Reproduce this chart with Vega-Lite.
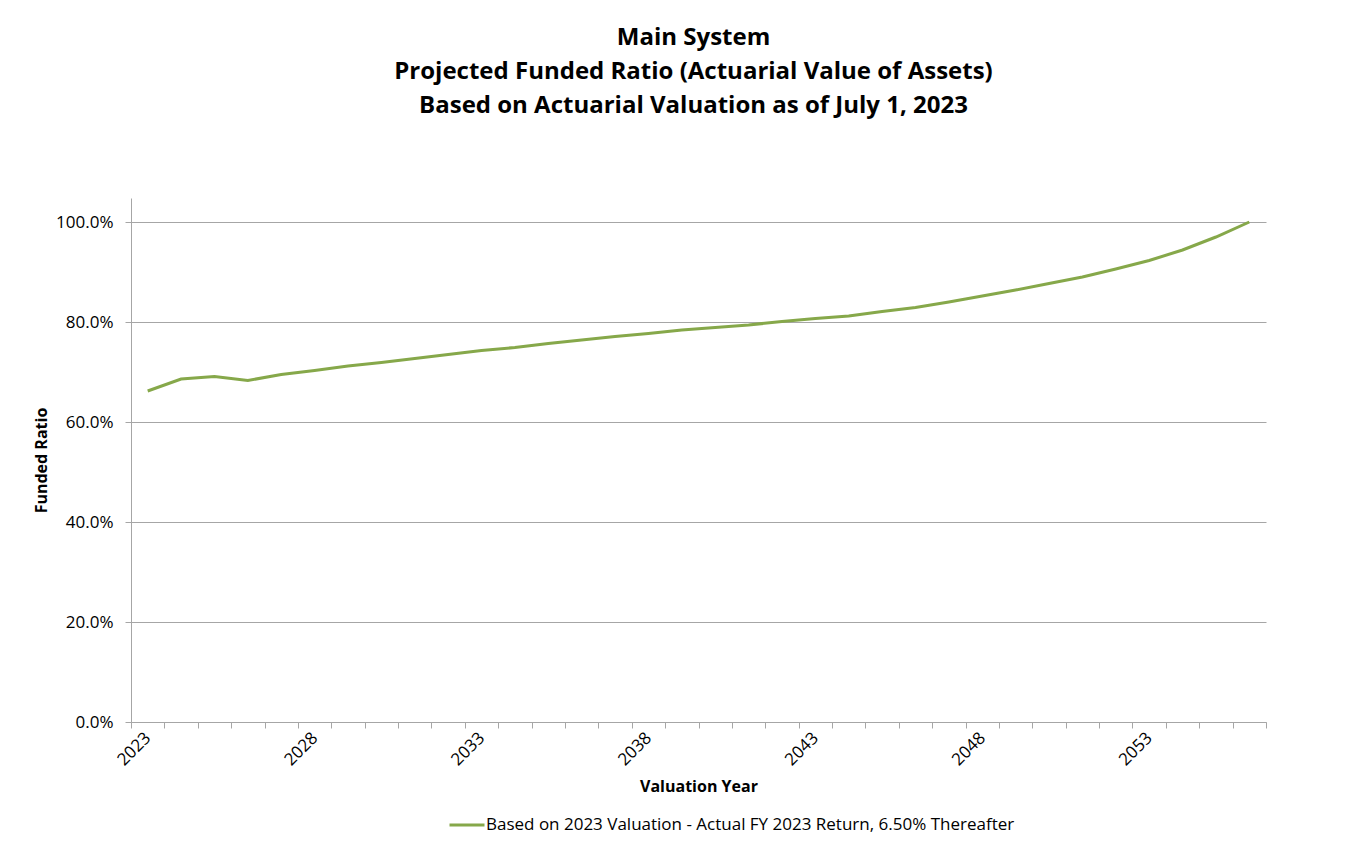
{
  "$schema": "https://vega.github.io/schema/vega-lite/v6.json",
  "width": 1135,
  "height": 524,
  "autosize": {"type": "none"},
  "padding": {"left": 131, "top": 198, "right": 86, "bottom": 132},
  "background": "white",
  "title": {
    "text": ["Main System", "Projected Funded Ratio (Actuarial Value of Assets)", "Based on Actuarial Valuation as of July 1, 2023"],
    "font": "Open Sans",
    "fontSize": 24,
    "fontWeight": "bold",
    "color": "#000000",
    "lineHeight": 34,
    "anchor": "middle",
    "dx": -5,
    "offset": 80
  },
  "data": {
    "values": [
      {"year": 2023, "ratio": 0.662, "series": "Based on 2023 Valuation - Actual FY 2023 Return, 6.50% Thereafter"},
      {"year": 2024, "ratio": 0.686, "series": "Based on 2023 Valuation - Actual FY 2023 Return, 6.50% Thereafter"},
      {"year": 2025, "ratio": 0.691, "series": "Based on 2023 Valuation - Actual FY 2023 Return, 6.50% Thereafter"},
      {"year": 2026, "ratio": 0.683, "series": "Based on 2023 Valuation - Actual FY 2023 Return, 6.50% Thereafter"},
      {"year": 2027, "ratio": 0.695, "series": "Based on 2023 Valuation - Actual FY 2023 Return, 6.50% Thereafter"},
      {"year": 2028, "ratio": 0.703, "series": "Based on 2023 Valuation - Actual FY 2023 Return, 6.50% Thereafter"},
      {"year": 2029, "ratio": 0.712, "series": "Based on 2023 Valuation - Actual FY 2023 Return, 6.50% Thereafter"},
      {"year": 2030, "ratio": 0.719, "series": "Based on 2023 Valuation - Actual FY 2023 Return, 6.50% Thereafter"},
      {"year": 2031, "ratio": 0.727, "series": "Based on 2023 Valuation - Actual FY 2023 Return, 6.50% Thereafter"},
      {"year": 2032, "ratio": 0.735, "series": "Based on 2023 Valuation - Actual FY 2023 Return, 6.50% Thereafter"},
      {"year": 2033, "ratio": 0.743, "series": "Based on 2023 Valuation - Actual FY 2023 Return, 6.50% Thereafter"},
      {"year": 2034, "ratio": 0.749, "series": "Based on 2023 Valuation - Actual FY 2023 Return, 6.50% Thereafter"},
      {"year": 2035, "ratio": 0.757, "series": "Based on 2023 Valuation - Actual FY 2023 Return, 6.50% Thereafter"},
      {"year": 2036, "ratio": 0.764, "series": "Based on 2023 Valuation - Actual FY 2023 Return, 6.50% Thereafter"},
      {"year": 2037, "ratio": 0.771, "series": "Based on 2023 Valuation - Actual FY 2023 Return, 6.50% Thereafter"},
      {"year": 2038, "ratio": 0.777, "series": "Based on 2023 Valuation - Actual FY 2023 Return, 6.50% Thereafter"},
      {"year": 2039, "ratio": 0.784, "series": "Based on 2023 Valuation - Actual FY 2023 Return, 6.50% Thereafter"},
      {"year": 2040, "ratio": 0.789, "series": "Based on 2023 Valuation - Actual FY 2023 Return, 6.50% Thereafter"},
      {"year": 2041, "ratio": 0.794, "series": "Based on 2023 Valuation - Actual FY 2023 Return, 6.50% Thereafter"},
      {"year": 2042, "ratio": 0.801, "series": "Based on 2023 Valuation - Actual FY 2023 Return, 6.50% Thereafter"},
      {"year": 2043, "ratio": 0.807, "series": "Based on 2023 Valuation - Actual FY 2023 Return, 6.50% Thereafter"},
      {"year": 2044, "ratio": 0.812, "series": "Based on 2023 Valuation - Actual FY 2023 Return, 6.50% Thereafter"},
      {"year": 2045, "ratio": 0.821, "series": "Based on 2023 Valuation - Actual FY 2023 Return, 6.50% Thereafter"},
      {"year": 2046, "ratio": 0.829, "series": "Based on 2023 Valuation - Actual FY 2023 Return, 6.50% Thereafter"},
      {"year": 2047, "ratio": 0.840, "series": "Based on 2023 Valuation - Actual FY 2023 Return, 6.50% Thereafter"},
      {"year": 2048, "ratio": 0.852, "series": "Based on 2023 Valuation - Actual FY 2023 Return, 6.50% Thereafter"},
      {"year": 2049, "ratio": 0.864, "series": "Based on 2023 Valuation - Actual FY 2023 Return, 6.50% Thereafter"},
      {"year": 2050, "ratio": 0.877, "series": "Based on 2023 Valuation - Actual FY 2023 Return, 6.50% Thereafter"},
      {"year": 2051, "ratio": 0.890, "series": "Based on 2023 Valuation - Actual FY 2023 Return, 6.50% Thereafter"},
      {"year": 2052, "ratio": 0.906, "series": "Based on 2023 Valuation - Actual FY 2023 Return, 6.50% Thereafter"},
      {"year": 2053, "ratio": 0.923, "series": "Based on 2023 Valuation - Actual FY 2023 Return, 6.50% Thereafter"},
      {"year": 2054, "ratio": 0.944, "series": "Based on 2023 Valuation - Actual FY 2023 Return, 6.50% Thereafter"},
      {"year": 2055, "ratio": 0.970, "series": "Based on 2023 Valuation - Actual FY 2023 Return, 6.50% Thereafter"},
      {"year": 2056, "ratio": 1.000, "series": "Based on 2023 Valuation - Actual FY 2023 Return, 6.50% Thereafter"}
    ]
  },
  "mark": {"type": "line", "strokeWidth": 3, "interpolate": "linear"},
  "encoding": {
    "x": {
      "field": "year",
      "type": "ordinal",
      "scale": {"paddingInner": 0, "paddingOuter": 0},
      "axis": {
        "title": "Valuation Year",
        "titleFont": "Open Sans",
        "titleFontSize": 16,
        "titleFontWeight": "bold",
        "titleColor": "#000000",
        "titlePadding": 10,
        "labelExpr": "(datum.value - 2023) % 5 == 0 ? datum.label : ''",
        "labelAngle": -45,
        "labelAlign": "right",
        "labelBaseline": "middle",
        "labelFont": "Open Sans",
        "labelFontSize": 17,
        "labelColor": "#000000",
        "labelPadding": 7,
        "tickBand": "extent",
        "tickSize": 6,
        "tickColor": "#a6a6a6",
        "domainColor": "#a6a6a6",
        "grid": false
      }
    },
    "y": {
      "field": "ratio",
      "type": "quantitative",
      "scale": {"domain": [0, 1.048], "nice": false},
      "axis": {
        "title": "Funded Ratio",
        "titleFont": "Open Sans",
        "titleFontSize": 16,
        "titleFontWeight": "bold",
        "titleColor": "#000000",
        "titlePadding": 6,
        "values": [0, 0.2, 0.4, 0.6, 0.8, 1.0],
        "format": ".1%",
        "labelFont": "Open Sans",
        "labelFontSize": 17,
        "labelColor": "#000000",
        "labelPadding": 12,
        "tickSize": 6,
        "tickColor": "#a6a6a6",
        "domainColor": "#a6a6a6",
        "grid": true,
        "gridColor": "#a6a6a6",
        "gridWidth": 1
      }
    },
    "color": {
      "field": "series",
      "type": "nominal",
      "scale": {"range": ["#86a84a"]},
      "legend": {
        "title": null,
        "orient": "none",
        "legendX": 317,
        "legendY": 608,
        "symbolType": "stroke",
        "symbolStrokeWidth": 3,
        "symbolSize": 1225,
        "labelFont": "Open Sans",
        "labelFontSize": 17,
        "labelColor": "#000000",
        "labelOffset": 0,
        "labelLimit": 0
      }
    }
  },
  "config": {
    "view": {"stroke": null}
  }
}
